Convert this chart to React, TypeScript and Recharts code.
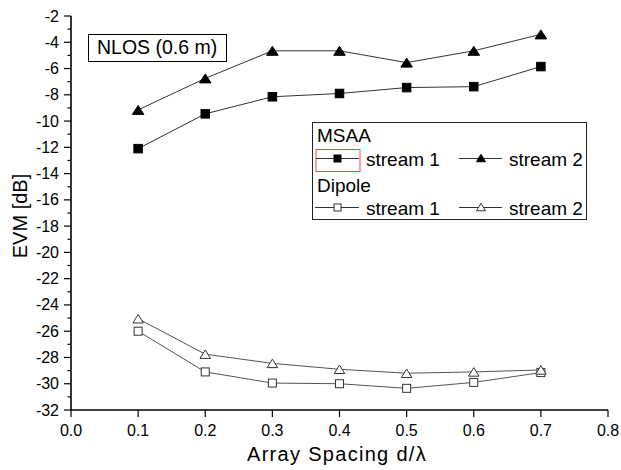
import React from 'react';
import { LineChart, Line, XAxis, YAxis } from 'recharts';

// ---- data ----
const spacing = [0.1, 0.2, 0.3, 0.4, 0.5, 0.6, 0.7];
const msaaStream1 = [-12.1, -9.45, -8.15, -7.9, -7.45, -7.38, -5.85];
const msaaStream2 = [-9.15, -6.75, -4.65, -4.65, -5.55, -4.65, -3.4];
const dipoleStream1 = [-26.0, -29.1, -29.95, -30.0, -30.35, -29.9, -29.15];
const dipoleStream2 = [-25.05, -27.75, -28.45, -28.9, -29.2, -29.1, -28.95];

const xTicks = [0, 0.1, 0.2, 0.3, 0.4, 0.5, 0.6, 0.7, 0.8];
const yMajorTicks = [-32, -30, -28, -26, -24, -22, -20, -18, -16, -14, -12, -10, -8, -6, -4, -2];
const yMinorTicks = [-31, -29, -27, -25, -23, -21, -19, -17, -15, -13, -11, -9, -7, -5, -3];
const legendGroups = ['MSAA', 'Dipole'];
const legendStreams = ['stream 1', 'stream 2'];
const annotationText = 'NLOS (0.6 m)';
const xTitle = 'Array Spacing d/\u03bb';
const yTitle = 'EVM [dB]';

const tableData = spacing.map((x, i) => ({
  x,
  m1: msaaStream1[i],
  m2: msaaStream2[i],
  d1: dipoleStream1[i],
  d2: dipoleStream2[i],
}));

const allYTicks = [...yMajorTicks, ...yMinorTicks].sort((a, b) => a - b);
const FONT = '"Liberation Sans", Arial, Helvetica, sans-serif';

// ---- tick renderers ----
const LeftTick = (p: any) => {
  const { x, y, payload } = p;
  const major = yMajorTicks.includes(payload.value);
  return (
    <g>
      <line x1={x} x2={x - (major ? 7 : 3.5)} y1={y} y2={y} stroke="#000" strokeWidth={1.2} />
      {major && (
        <text x={x - 12} y={y} textAnchor="end" dominantBaseline="central" fontSize={16} fontFamily={FONT} fill="#000">
          {String(payload.value)}
        </text>
      )}
    </g>
  );
};

const RightTick = (p: any) => {
  const { x, y, payload } = p;
  const major = yMajorTicks.includes(payload.value);
  return <line x1={x} x2={x - (major ? 6.5 : 3.5)} y1={y} y2={y} stroke="#000" strokeWidth={1.2} />;
};

const BottomTick = (p: any) => {
  const { x, y, payload } = p;
  return (
    <g>
      <line x1={x} x2={x} y1={y} y2={y + 7} stroke="#000" strokeWidth={1.2} />
      <text x={x} y={y + 25.5} textAnchor="middle" fontSize={16} fontFamily={FONT} fill="#000">
        {Number(payload.value).toFixed(1)}
      </text>
    </g>
  );
};

const TopTick = (p: any) => {
  const { x, y } = p;
  return <line x1={x} x2={x} y1={y} y2={y + 7} stroke="#000" strokeWidth={1.2} />;
};

// ---- markers ----
const sq = (cx: number, cy: number, s: number, filled: boolean, key?: any) => (
  <rect key={key} x={cx - s / 2} y={cy - s / 2} width={s} height={s}
    fill={filled ? '#000' : '#fff'} stroke={filled ? '#000' : '#333'} strokeWidth={1} />
);
const tri = (cx: number, cy: number, w: number, h: number, filled: boolean, key?: any) => (
  <polygon key={key}
    points={`${cx},${cy - h / 2} ${cx - w / 2},${cy + h / 2} ${cx + w / 2},${cy + h / 2}`}
    fill={filled ? '#000' : '#fff'} stroke={filled ? '#000' : '#333'} strokeWidth={1} />
);

const dotFilledSquare = (p: any) => sq(p.cx, p.cy, 8.5, true, `fs${p.index}`);
const dotFilledTri = (p: any) => tri(p.cx, p.cy, 11.5, 9, true, `ft${p.index}`);
const dotOpenSquare = (p: any) => sq(p.cx, p.cy, 8, false, `os${p.index}`);
const dotOpenTri = (p: any) => tri(p.cx, p.cy, 10.5, 8.5, false, `ot${p.index}`);

const axisLineStyle = { stroke: '#000', strokeWidth: 1.6 };

export default function App() {
  return (
    <div style={{ position: 'absolute', left: 0, top: 0, width: 621, height: 470, background: '#fff' }}>
      <LineChart
        width={621}
        height={470}
        data={tableData}
        margin={{ top: 16, right: 13, bottom: 0, left: 0 }}
      >
        <XAxis
          dataKey="x"
          type="number"
          domain={[0, 0.8]}
          ticks={xTicks}
          interval={0}
          height={60}
          tickSize={0}
          tickMargin={0}
          tickLine={false}
          axisLine={axisLineStyle}
          tick={<BottomTick />}
          allowDataOverflow
        />
        <XAxis
          xAxisId="top"
          orientation="top"
          dataKey="x"
          type="number"
          domain={[0, 0.8]}
          ticks={xTicks}
          interval={0}
          height={0}
          tickSize={0}
          tickMargin={0}
          tickLine={false}
          axisLine={axisLineStyle}
          tick={<TopTick />}
          allowDataOverflow
        />
        <YAxis
          type="number"
          domain={[-32, -2]}
          ticks={allYTicks}
          interval={0}
          width={71}
          tickSize={0}
          tickMargin={0}
          tickLine={false}
          axisLine={axisLineStyle}
          tick={<LeftTick />}
          allowDataOverflow
        />
        <YAxis
          yAxisId="right"
          orientation="right"
          type="number"
          domain={[-32, -2]}
          ticks={allYTicks}
          interval={0}
          width={0}
          tickSize={0}
          tickMargin={0}
          tickLine={false}
          axisLine={axisLineStyle}
          tick={<RightTick />}
          allowDataOverflow
        />
        <Line dataKey="m1" stroke="#333" strokeWidth={1} dot={dotFilledSquare} isAnimationActive={false} />
        <Line dataKey="m2" stroke="#333" strokeWidth={1} dot={dotFilledTri} isAnimationActive={false} />
        <Line dataKey="d1" stroke="#555" strokeWidth={1} dot={dotOpenSquare} isAnimationActive={false} />
        <Line dataKey="d2" stroke="#555" strokeWidth={1} dot={dotOpenTri} isAnimationActive={false} />
      </LineChart>

      <svg width={621} height={470} style={{ position: 'absolute', left: 0, top: 0, pointerEvents: 'none' }}>
        {/* annotation box */}
        <rect x={88.5} y={34.5} width={138} height={27} fill="#fff" stroke="#000" strokeWidth={1} />
        <text x={97} y={54} fontSize={19.5} fontFamily={FONT} fill="#000">{annotationText}</text>

        {/* legend */}
        <rect x={312.5} y={122.5} width={274} height={97} fill="#fff" stroke="#222" strokeWidth={1} />
        <text x={317} y={142} fontSize={19} fontFamily={FONT} fill="#000">{legendGroups[0]}</text>
        <rect x={316} y={149.5} width={44} height={22} fill="none" stroke="#f04848" strokeWidth={1} />
        <line x1={316} x2={359} y1={158.5} y2={158.5} stroke="#333" strokeWidth={1} />
        {sq(337.5, 158.5, 7, true)}
        <text x={366} y={166} fontSize={19} fontFamily={FONT} fill="#000">{legendStreams[0]}</text>
        <line x1={459} x2={502} y1={158.5} y2={158.5} stroke="#333" strokeWidth={1} />
        {tri(481, 158, 9, 7.5, true)}
        <text x={509} y={166} fontSize={19} fontFamily={FONT} fill="#000">{legendStreams[1]}</text>

        <text x={317} y={192} fontSize={19} fontFamily={FONT} fill="#000">{legendGroups[1]}</text>
        <line x1={315} x2={359} y1={207.5} y2={207.5} stroke="#333" strokeWidth={1} />
        {sq(337.5, 207.5, 7, false)}
        <text x={366} y={215} fontSize={19} fontFamily={FONT} fill="#000">{legendStreams[0]}</text>
        <line x1={459} x2={502} y1={207.5} y2={207.5} stroke="#333" strokeWidth={1} />
        {tri(481, 207, 9, 7.5, false)}
        <text x={509} y={215} fontSize={19} fontFamily={FONT} fill="#000">{legendStreams[1]}</text>

        {/* axis titles */}
        <text x={337} y={461} textAnchor="middle" fontSize={20} letterSpacing={1.3} fontFamily={FONT} fill="#000">{xTitle}</text>
        <text x={27} y={216} transform="rotate(-90 27 216)" textAnchor="middle" fontSize={20} fontFamily={FONT} fill="#000">{yTitle}</text>
      </svg>
    </div>
  );
}
